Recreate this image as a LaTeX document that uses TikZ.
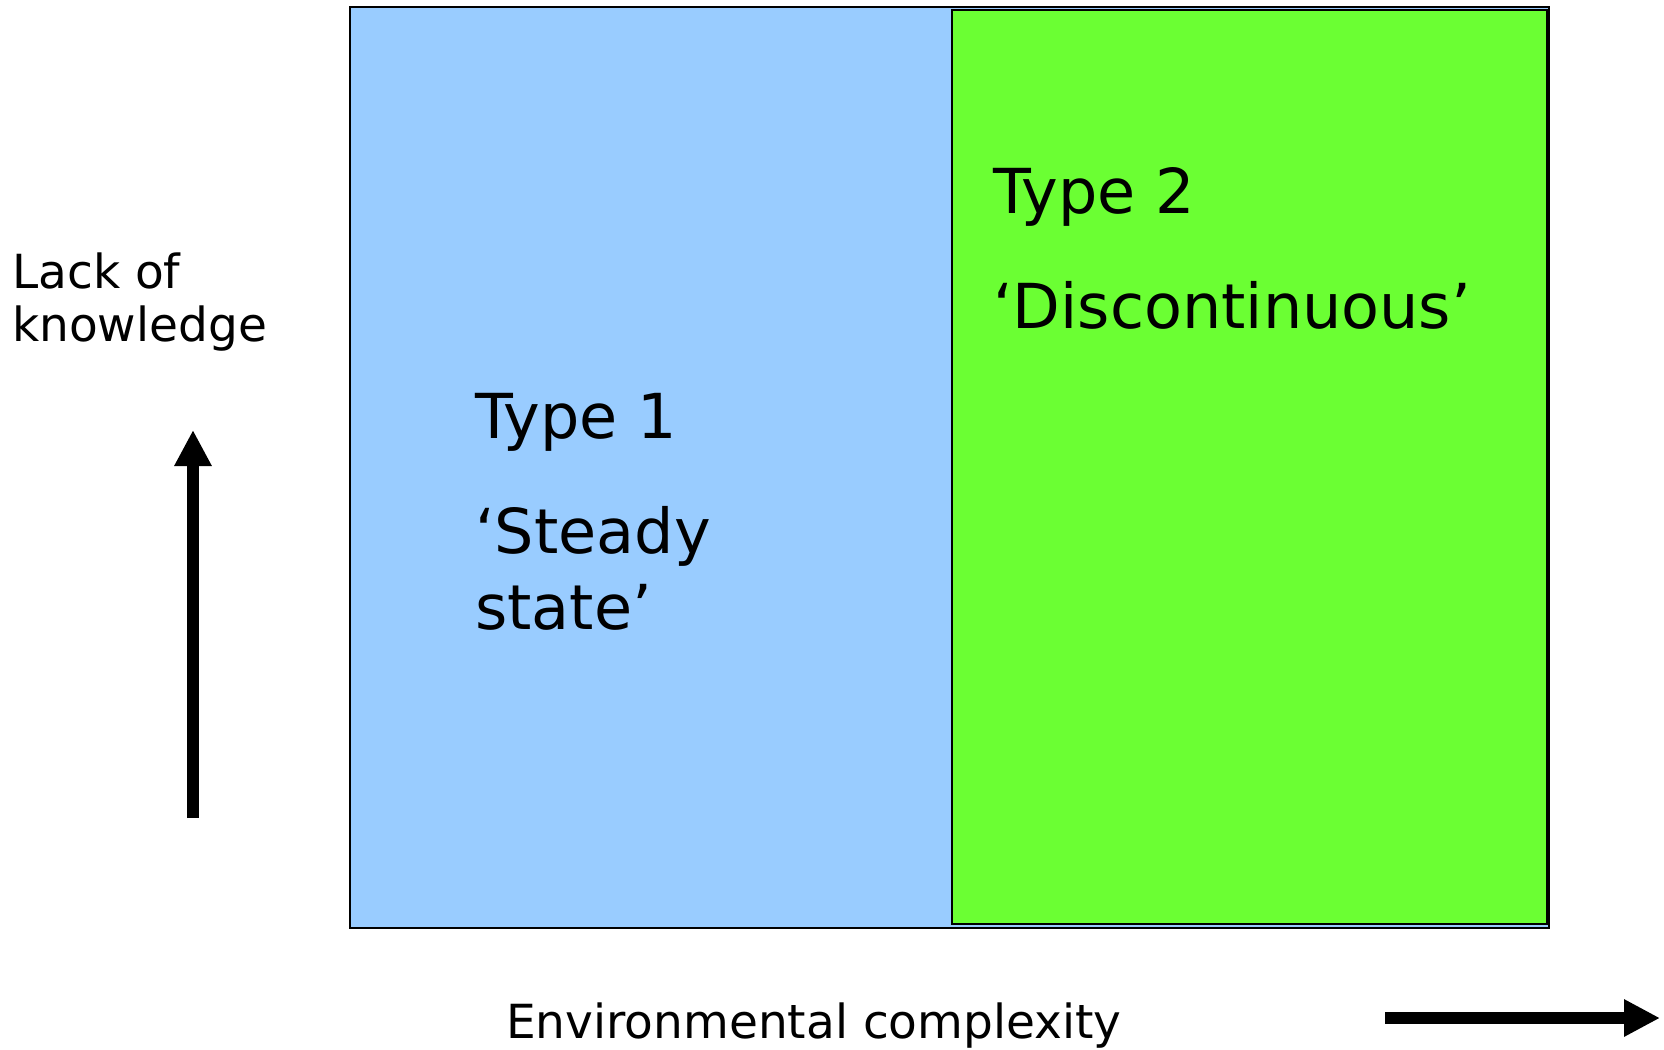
\documentclass[tikz,border=0pt]{standalone}
\usepackage{fontspec}
\setmainfont{DejaVu Sans}
\usetikzlibrary{arrows.meta}

\definecolor{steadyblue}{HTML}{99CCFF}
\definecolor{discgreen}{HTML}{6BFF33}

\tikzset{
  region/.style={draw=black,line width=2pt},
  typetext/.style={anchor=base west,inner sep=0pt,font=\fontsize{62}{67}\selectfont},
  axistext/.style={anchor=base west,inner sep=0pt,font=\fontsize{47}{52}\selectfont},
  bigarrow/.style={line width=12pt,-{Triangle[width=35pt,length=36pt]}}
}

\begin{document}
\begin{tikzpicture}[x=1pt,y=-1pt]
  \useasboundingbox (0,0) rectangle (1664,1049);

  % the two regions
  \draw[region,fill=steadyblue] (350,7) rectangle (1549,928);
  \draw[region,fill=discgreen] (952,10.5) rectangle (1547,924);

  % region texts
  \node[typetext] (type1) at (475,438) {Type 1};
  \node[typetext] (steady1) at (475,553) {‘Steady};
  \node[typetext] (steady2) at (475,629) {state’};
  \node[typetext] (type2) at (993,213) {Type 2};
  \node[typetext] (disc) at (993,328) {‘Discontinuous’};

  % axes
  \node[axistext] (lack1) at (12,288) {Lack of};
  \node[axistext] (lack2) at (12,341) {knowledge};
  \node[axistext] (envc) at (506,1038) {Environmental complexity};

  \coordinate (kbot) at (193,818);
  \coordinate (ktop) at (193,430);
  \coordinate (cleft) at (1385,1018);
  \coordinate (cright) at (1660,1018);
  \draw[bigarrow] (kbot) -- (ktop);
  \draw[bigarrow] (cleft) -- (cright);
\end{tikzpicture}
\end{document}
